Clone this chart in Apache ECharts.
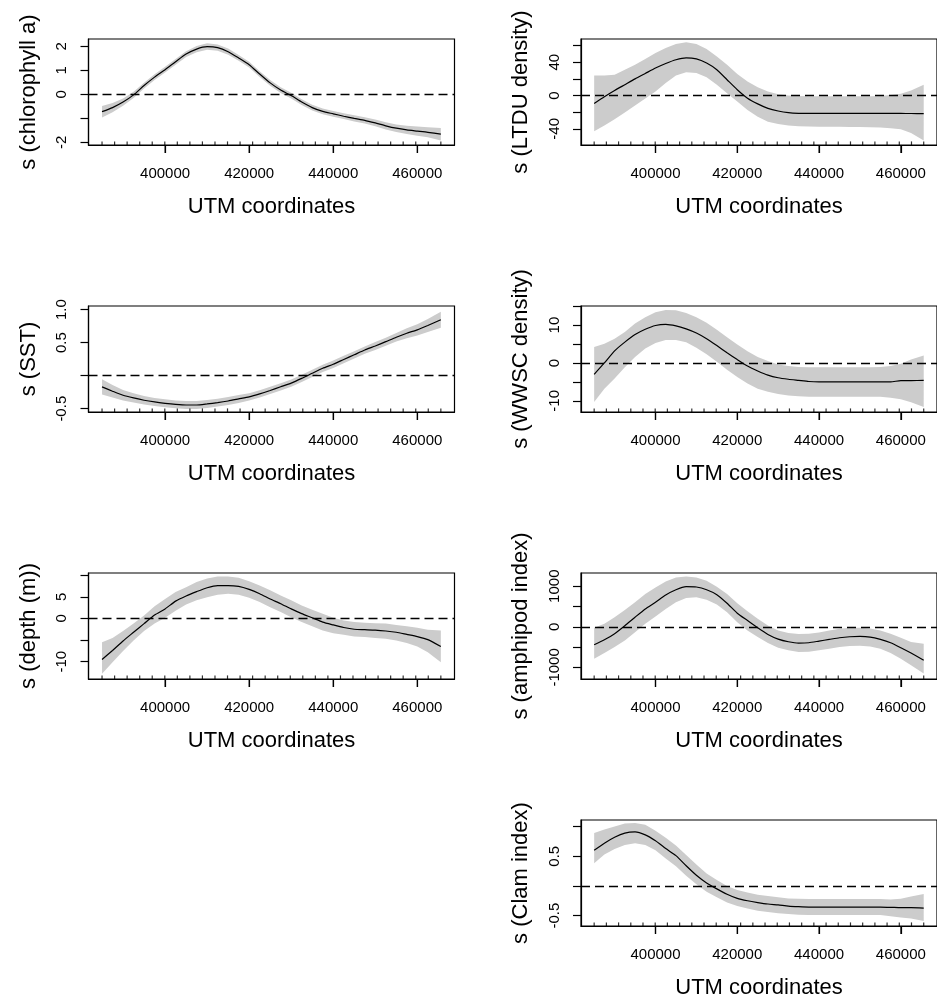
<!DOCTYPE html>
<html>
<head>
<meta charset="utf-8">
<script src="https://cdn.jsdelivr.net/npm/echarts@6/dist/echarts.min.js"></script>
<style>
  html, body { margin: 0; padding: 0; background: #ffffff; }
  #chart { width: 937px; height: 1001px; }
</style>
</head>
<body>
<div id="chart"></div>
<script>
// Smooth terms of the fitted GAM against UTM coordinates, with their confidence bands.

const utm = [385000, 387500, 390000, 392500, 395000, 397500, 400000, 402500, 405000, 407500,
  410000, 412500, 415000, 417500, 420000, 422500, 425000, 427500, 430000, 432500,
  435000, 437500, 440000, 442500, 445000, 447500, 450000, 452500, 455000, 457500,
  460000, 462500, 465600];

// observation positions shown as a rug along the bottom of each panel
const rugUtm = [385000, 387990, 390970, 393960, 396940, 399930, 402910, 405900, 408880, 411870,
  414850, 417840, 420820, 423810, 426790, 429780, 432760, 435750, 438730, 441720,
  444700, 447690, 450670, 453660, 456640, 459630, 462610, 465600];

const utmRange = [381780, 468850];
const utmTicks = [400000, 420000, 440000, 460000];

// s(chlorophyll a)
const chlFit = [-0.72, -0.55, -0.32, -0.02, 0.37, 0.72, 1.03, 1.36, 1.68, 1.89, 1.99, 1.95, 1.78, 1.52, 1.24, 0.85, 0.48, 0.18, -0.05, -0.32, -0.55, -0.71, -0.81, -0.91, -1.00, -1.08, -1.19, -1.31, -1.41, -1.48, -1.53, -1.58, -1.66];
const chlHi = [-0.48, -0.36, -0.17, 0.11, 0.49, 0.84, 1.15, 1.48, 1.80, 2.02, 2.13, 2.08, 1.91, 1.64, 1.36, 0.97, 0.60, 0.30, 0.07, -0.20, -0.43, -0.59, -0.69, -0.79, -0.87, -0.95, -1.05, -1.16, -1.25, -1.31, -1.34, -1.37, -1.40];
const chlLo = [-0.96, -0.74, -0.47, -0.15, 0.25, 0.60, 0.91, 1.24, 1.56, 1.76, 1.86, 1.82, 1.65, 1.40, 1.12, 0.73, 0.36, 0.06, -0.17, -0.44, -0.67, -0.83, -0.93, -1.03, -1.13, -1.21, -1.33, -1.46, -1.57, -1.65, -1.72, -1.79, -1.92];
const chlRange = [-2.11, 2.31];
const chlTicks = [-2, -1, 0, 1, 2];
const chlLabels = [-2, 0, 1, 2];

// s(LTDU density)
const ltduFit = [-9.5, -1.5, 6, 13, 20, 26.5, 33, 38.5, 43, 45.3, 44, 39, 31, 19, 7, -3.2, -10, -15.4, -18.6, -20.6, -21.4, -21.5, -21.5, -21.5, -21.5, -21.5, -21.5, -21.5, -21.5, -21.5, -21.5, -21.6, -21.7];
const ltduHi = [24, 24, 25, 31, 37, 44, 51, 57, 62, 64, 62, 56, 47, 37, 26, 17, 10, 5, 1.6, 0, -0.5, -0.8, -1, -1, -1, -1, -1, -0.8, -0.5, 0.5, 2, 6, 13];
const ltduLo = [-43, -36, -28.5, -20.5, -12, -3.5, 4.8, 15, 24, 28, 27, 22, 13, 2.8, -7.3, -17.4, -25.5, -31.5, -34.3, -36, -36.8, -37.2, -37.6, -37.6, -37.6, -37.7, -37.8, -38, -38.5, -39.3, -40.5, -45, -54];
const ltduRange = [-59.4, 67.9];
const ltduTicks = [-40, -20, 0, 20, 40, 60];
const ltduLabels = [-40, 0, 40];

// s(SST)
const sstFit = [-0.17, -0.235, -0.296, -0.337, -0.372, -0.398, -0.418, -0.434, -0.444, -0.444, -0.428, -0.408, -0.383, -0.352, -0.321, -0.276, -0.224, -0.168, -0.112, -0.041, 0.036, 0.112, 0.173, 0.245, 0.316, 0.388, 0.449, 0.515, 0.582, 0.643, 0.694, 0.760, 0.847];
const sstHi = [-0.055, -0.14, -0.216, -0.267, -0.307, -0.338, -0.358, -0.374, -0.384, -0.384, -0.368, -0.348, -0.323, -0.292, -0.266, -0.221, -0.169, -0.113, -0.057, 0.014, 0.091, 0.167, 0.228, 0.30, 0.371, 0.443, 0.509, 0.575, 0.647, 0.718, 0.779, 0.86, 0.967];
const sstLo = [-0.285, -0.33, -0.376, -0.407, -0.437, -0.458, -0.478, -0.494, -0.504, -0.504, -0.488, -0.468, -0.443, -0.412, -0.376, -0.331, -0.279, -0.223, -0.167, -0.096, -0.019, 0.057, 0.118, 0.19, 0.261, 0.333, 0.389, 0.455, 0.517, 0.568, 0.609, 0.66, 0.727];
const sstRange = [-0.55, 1.055];
const sstTicks = [-0.5, 0, 0.5, 1];
const sstLabels = [-0.5, 0.5, 1];

// s(WWSC density)
const wwscFit = [-3.0, 0, 3.2, 5.5, 7.5, 8.9, 9.9, 10.2, 9.8, 9.0, 7.9, 6.4, 4.6, 2.7, 0.9, -0.8, -2.1, -3.2, -3.9, -4.3, -4.6, -4.9, -5.0, -5.0, -5.0, -5.0, -5.0, -5.0, -5.0, -5.0, -4.65, -4.65, -4.6];
const wwscHi = [4.2, 5.1, 6.4, 8.2, 10.4, 12.1, 13.4, 14.0, 13.9, 13.2, 12.1, 10.6, 8.8, 6.8, 4.9, 3.1, 1.6, 0.5, -0.4, -0.8, -1.05, -1.1, -1.1, -1.1, -1.1, -1.1, -1.1, -1.1, -1.05, -0.8, -0.2, 0.9, 2.0];
const wwscLo = [-10.3, -6.8, -4.1, -1.1, 1.6, 3.8, 5.3, 6.1, 6.1, 5.5, 4.0, 2.3, 0.3, -1.8, -3.7, -5.4, -6.8, -7.6, -8.2, -8.6, -8.8, -8.9, -8.9, -8.9, -8.9, -8.9, -8.9, -8.9, -8.9, -9.2, -9.6, -10.4, -11.6];
const wwscRange = [-12.95, 15.05];
const wwscTicks = [-10, -5, 0, 5, 10, 15];
const wwscLabels = [-10, 0, 10];

// s(depth (m))
const depthFit = [-9.5, -7.4, -5.2, -3.2, -1.2, 0.8, 2.2, 4.0, 5.2, 6.2, 7.1, 7.6, 7.6, 7.4, 6.7, 5.7, 4.5, 3.4, 2.2, 1.1, 0.15, -0.85, -1.5, -2.1, -2.5, -2.6, -2.7, -2.9, -3.2, -3.7, -4.2, -4.9, -6.5];
const depthHi = [-5.5, -4.5, -2.9, -1.2, 0.7, 2.8, 4.5, 6.1, 7.2, 8.4, 9.2, 9.7, 9.7, 9.4, 8.6, 7.6, 6.5, 5.3, 4.2, 3.0, 2.0, 1.1, 0.15, -0.5, -0.85, -1.0, -1.1, -1.2, -1.5, -1.8, -2.15, -2.6, -2.8];
const depthLo = [-12.8, -10.1, -7.5, -5.1, -2.9, -1.2, 0.15, 1.8, 3.2, 4.2, 4.9, 5.5, 5.7, 5.5, 4.8, 3.8, 2.6, 1.5, 0.3, -0.85, -1.8, -2.8, -3.4, -3.8, -4.2, -4.3, -4.5, -4.7, -5.1, -5.7, -6.5, -7.8, -10.1];
const depthRange = [-14.0, 10.5];
const depthTicks = [-10, -5, 0, 5, 10];
const depthLabels = [-10, 0, 5];

// s(amphipod index)
const amphFit = [-441, -318, -171, 24, 237, 441, 604, 784, 914, 988, 980, 914, 792, 580, 335, 155, -24, -188, -302, -367, -400, -392, -351, -310, -269, -245, -237, -253, -310, -392, -514, -645, -824];
const amphHi = [-24, 73, 237, 416, 604, 808, 971, 1118, 1216, 1241, 1216, 1135, 988, 808, 580, 384, 196, 33, -90, -155, -180, -171, -139, -90, -49, -24, -24, -41, -90, -171, -269, -376, -416];
const amphLo = [-784, -645, -498, -335, -131, 73, 253, 441, 604, 710, 727, 669, 547, 359, 114, -90, -253, -400, -514, -580, -620, -612, -580, -539, -498, -473, -465, -482, -539, -645, -784, -947, -1151];
const amphRange = [-1285, 1325];
const amphTicks = [-1000, -500, 0, 500, 1000];
const amphLabels = [-1000, 0, 1000];

// s(Clam index)
const clamFit = [0.60, 0.72, 0.82, 0.89, 0.91, 0.86, 0.76, 0.63, 0.51, 0.34, 0.18, 0.05, -0.05, -0.14, -0.21, -0.25, -0.28, -0.305, -0.32, -0.34, -0.35, -0.356, -0.356, -0.356, -0.356, -0.356, -0.356, -0.356, -0.356, -0.36, -0.367, -0.367, -0.373];
const clamHi = [0.89, 0.95, 1.0, 1.05, 1.06, 1.03, 0.93, 0.81, 0.68, 0.52, 0.36, 0.21, 0.10, 0.0, -0.07, -0.11, -0.15, -0.17, -0.19, -0.21, -0.215, -0.22, -0.22, -0.22, -0.22, -0.22, -0.22, -0.22, -0.22, -0.23, -0.215, -0.18, -0.135];
const clamLo = [0.38, 0.53, 0.62, 0.69, 0.72, 0.69, 0.60, 0.46, 0.33, 0.17, 0.03, -0.10, -0.19, -0.28, -0.34, -0.38, -0.42, -0.44, -0.46, -0.475, -0.485, -0.49, -0.49, -0.49, -0.49, -0.49, -0.49, -0.49, -0.49, -0.51, -0.53, -0.55, -0.59];
const clamRange = [-0.675, 1.11];
const clamTicks = [-0.5, 0, 0.5, 1];
const clamLabels = [-0.5, 0.5];

const panels = [
  { title: 's (chlorophyll a)', fit: chlFit, hi: chlHi, lo: chlLo, range: chlRange, ticks: chlTicks, labels: chlLabels, decimals: 0 },
  { title: 's (LTDU density)', fit: ltduFit, hi: ltduHi, lo: ltduLo, range: ltduRange, ticks: ltduTicks, labels: ltduLabels, decimals: 0 },
  { title: 's (SST)', fit: sstFit, hi: sstHi, lo: sstLo, range: sstRange, ticks: sstTicks, labels: sstLabels, decimals: 1 },
  { title: 's (WWSC density)', fit: wwscFit, hi: wwscHi, lo: wwscLo, range: wwscRange, ticks: wwscTicks, labels: wwscLabels, decimals: 0 },
  { title: 's (depth (m))', fit: depthFit, hi: depthHi, lo: depthLo, range: depthRange, ticks: depthTicks, labels: depthLabels, decimals: 0 },
  { title: 's (amphipod index)', fit: amphFit, hi: amphHi, lo: amphLo, range: amphRange, ticks: amphTicks, labels: amphLabels, decimals: 0 },
  { title: 's (Clam index)', fit: clamFit, hi: clamHi, lo: clamLo, range: clamRange, ticks: clamTicks, labels: clamLabels, decimals: 0 }
];

// panel boxes: two columns, four rows (the last row only has the right column)
const colLeft = [88.5, 581];
const rowTop = [39, 306, 573, 820];
const boxW = 366, boxH = 106;
const slots = [[0, 0], [1, 0], [0, 1], [1, 1], [0, 2], [1, 2], [1, 3]];

const FONT = '"Liberation Sans", Arial, Helvetica, sans-serif';
const INK = '#000000';
const TICK_LEN = 8;

const grid = [], xAxis = [], yAxis = [], series = [];

panels.forEach(function (p, i) {
  const col = slots[i][0], row = slots[i][1];
  grid.push({
    left: colLeft[col], top: rowTop[row], width: boxW, height: boxH,
    show: true, borderColor: INK, borderWidth: 1.2, backgroundColor: 'transparent',
    containLabel: false
  });

  xAxis.push({
    gridIndex: i, type: 'value', min: utmRange[0], max: utmRange[1],
    axisLine: { show: true, onZero: false, lineStyle: { color: INK, width: 1.2 } },
    splitLine: { show: false },
    axisTick: { show: true, inside: false, length: TICK_LEN, customValues: utmTicks, lineStyle: { color: INK, width: 1.2 } },
    axisLabel: {
      customValues: utmTicks, fontSize: 15, color: INK, fontFamily: FONT, margin: 21,
      formatter: function (v) { return String(v); }
    },
    name: 'UTM coordinates', nameLocation: 'middle', nameGap: 51,
    nameTextStyle: { fontSize: 22, color: INK, fontFamily: FONT }
  });

  yAxis.push({
    gridIndex: i, type: 'value', min: p.range[0], max: p.range[1],
    axisLine: { show: true, onZero: false, lineStyle: { color: INK, width: 1.2 } },
    splitLine: { show: false },
    axisTick: { show: true, inside: false, length: TICK_LEN, customValues: p.ticks, lineStyle: { color: INK, width: 1.2 } },
    axisLabel: {
      customValues: p.labels, rotate: 90, fontSize: 15, color: INK, fontFamily: FONT, margin: 19,
      formatter: function (v) { return p.decimals ? v.toFixed(p.decimals) : String(v); }
    },
    name: p.title, nameLocation: 'middle', nameGap: 49,
    nameTextStyle: { fontSize: 22, color: INK, fontFamily: FONT }
  });

  // confidence band as one filled polygon
  series.push({
    type: 'custom', xAxisIndex: i, yAxisIndex: i, z: 1, silent: true,
    data: utm.map(function (x, k) { return [x, p.lo[k], p.hi[k]]; }),
    encode: { x: 0, y: [1, 2] },
    renderItem: function (params, api) {
      if (params.dataIndexInside !== 0) return null;
      const n = params.dataInsideLength;
      const pts = [];
      for (let k = 0; k < n; k++) pts.push(api.coord([api.value(0, k), api.value(2, k)]));
      for (let k = n - 1; k >= 0; k--) pts.push(api.coord([api.value(0, k), api.value(1, k)]));
      return { type: 'polygon', shape: { points: pts }, style: { fill: '#cccccc' } };
    }
  });

  // major UTM tick marks hanging below the box, on their own layer
  series.push({
    type: 'scatter', xAxisIndex: i, yAxisIndex: i, zlevel: 1, z: 10, silent: true, clip: false,
    data: utmTicks.map(function (x) { return [x, p.range[0]]; }),
    symbol: 'rect', symbolSize: [1.3, TICK_LEN], symbolOffset: [0, TICK_LEN / 2],
    itemStyle: { color: INK }
  });

  // rug of sampled positions, standing on the bottom edge of the box
  series.push({
    type: 'scatter', xAxisIndex: i, yAxisIndex: i, z: 2, silent: true, clip: false,
    data: rugUtm.map(function (x) { return [x, p.range[0]]; }),
    symbol: 'rect', symbolSize: [1.2, 3.6], symbolOffset: [0, -1.8],
    itemStyle: { color: INK }
  });

  // fitted smooth and the zero reference line
  series.push({
    type: 'line', xAxisIndex: i, yAxisIndex: i, z: 3, silent: true,
    data: utm.map(function (x, k) { return [x, p.fit[k]]; }),
    symbol: 'none', smooth: 0.2,
    lineStyle: { color: INK, width: 1.2 },
    markLine: {
      silent: true, symbol: 'none', label: { show: false },
      lineStyle: { color: INK, width: 1.3, type: [9, 5] },
      data: [{ yAxis: 0 }]
    }
  });
});

const chart = echarts.init(document.getElementById('chart'), null, { renderer: 'canvas' });
chart.setOption({
  animation: false,
  backgroundColor: '#ffffff',
  grid: grid, xAxis: xAxis, yAxis: yAxis, series: series
});
</script>
</body>
</html>
